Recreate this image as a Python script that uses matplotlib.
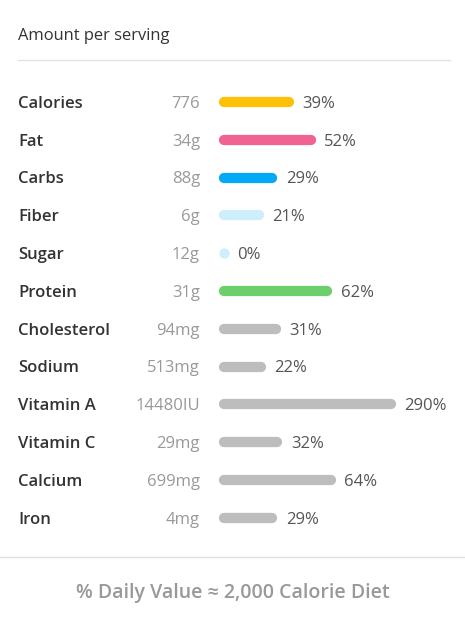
import matplotlib
matplotlib.use("Agg")
import matplotlib.pyplot as plt
from matplotlib.lines import Line2D

nutrients = ["Calories", "Fat", "Carbs", "Fiber", "Sugar", "Protein", "Cholesterol",
             "Sodium", "Vitamin A", "Vitamin C", "Calcium", "Iron"]
amounts = ["776", "34g", "88g", "6g", "12g", "31g", "94mg", "513mg", "14480IU",
           "29mg", "699mg", "4mg"]
daily_pct = [39, 52, 29, 21, 0, 62, 31, 22, 290, 32, 64, 29]
bar_colors = ["#FFC107", "#F06292", "#03A9F4", "#CDEEFD", "#CDEEFD", "#6CCF6C",
              "#BDBDBD", "#BDBDBD", "#BDBDBD", "#BDBDBD", "#BDBDBD", "#BDBDBD"]

W, H = 465, 621
DPI = 100
plt.rcParams['font.family'] = ['Open Sans', 'DejaVu Sans']
fig = plt.figure(figsize=(W / DPI, H / DPI), dpi=DPI)
fig.patch.set_facecolor("white")

def fx(px):
    return px / W

def fy(py):
    return 1 - py / H

# header
fig.text(fx(18), fy(36), "Amount per serving", fontsize=11.9, color="#333333",
         ha="left", va="center")
fig.add_artist(Line2D([fx(18), fx(450)], [fy(60), fy(60)], color="#DDE3EA", lw=1))
fig.add_artist(Line2D([0, 1], [fy(557), fy(557)], color="#E0E0E0", lw=1))
fig.text(0.5, fy(593), "% Daily Value \u2248 2,000 Calorie Diet", fontsize=14,
         color="#999999", ha="center", va="center", fontweight="semibold")

# bars axes: x 0..100% maps to px 224..390.7
x0, x1 = 224, 224 + 166.7
row0, step = 102, 37.8
n = len(nutrients)
top = row0 - step / 2
bottom = row0 + (n - 1) * step + step / 2
ax = fig.add_axes([fx(x0), fy(bottom), (x1 - x0) / W, (bottom - top) / H])
ax.set_xlim(0, 100)
ax.set_ylim(n - 0.5, -0.5)
ax.axis("off")

tr = ax.get_yaxis_transform()
px_to_ax = lambda px: (px - x0) / (x1 - x0)
text_dy = 0.05  # small downward nudge (data units)

for i, (name, amt, pct, col) in enumerate(zip(nutrients, amounts, daily_pct, bar_colors)):
    length = min(pct, 100)
    if length > 0:
        ax.plot([0, length], [i, i], color=col, lw=7.4, solid_capstyle="round",
                clip_on=False)
    else:
        ax.plot([0], [i], marker="o", markersize=7.4, color=col, markeredgewidth=0,
                clip_on=False)
    ax.text(px_to_ax(18), i + text_dy, name, transform=tr, ha="left", va="center",
            fontsize=12, color="#333333", fontweight="semibold")
    ax.text(px_to_ax(200), i + text_dy, amt, transform=tr, ha="right", va="center",
            fontsize=12, color="#999999")
    ax.annotate(f"{pct}%", xy=(length, i + text_dy), xytext=(13.5, 0),
                textcoords="offset pixels", ha="left", va="center", fontsize=12,
                color="#555555", annotation_clip=False)

fig.savefig("out.png", dpi=DPI, facecolor="white")
